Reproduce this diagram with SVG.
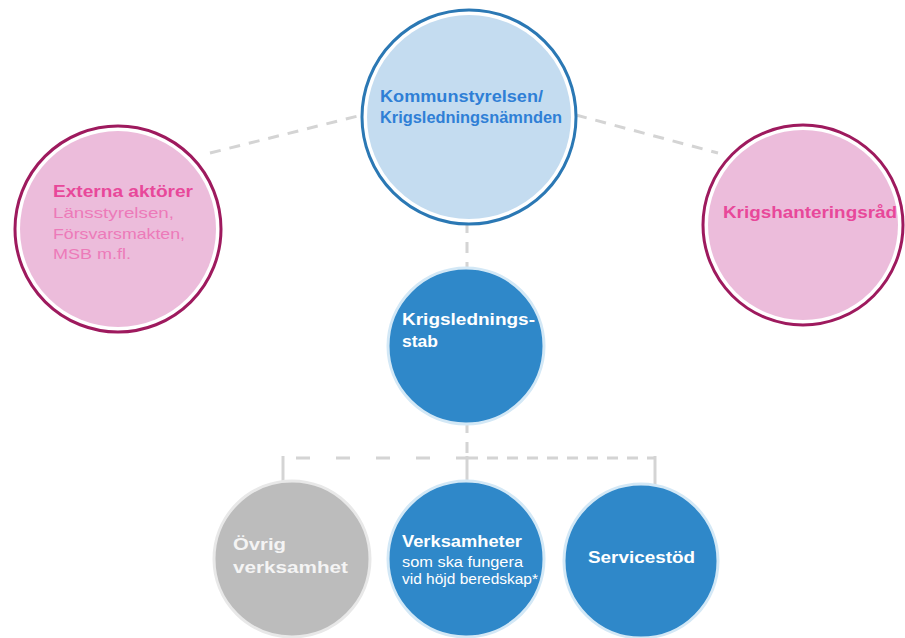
<svg xmlns="http://www.w3.org/2000/svg" width="905" height="638" viewBox="0 0 905 638">
<style>
.conn{stroke:#d4d4d4;stroke-width:3;fill:none;stroke-dasharray:11 9}
.sparse{stroke:#d4d4d4;stroke-width:3;fill:none;stroke-dasharray:14 26}
.solid{stroke:#d4d4d4;stroke-width:3;fill:none}
.ringBlue{fill:#ffffff;stroke:#2b78b4;stroke-width:3}
.fillBlue{fill:#c4dcf0}
.ringPink{fill:#ffffff;stroke:#9e1a5e;stroke-width:3}
.fillPink{fill:#ecbcdb}
.blue{fill:#2f88c9;stroke:#d3e8f6;stroke-width:3}
.gray{fill:#bcbcbc;stroke:#e8e8e8;stroke-width:3}
text{font-family:"Liberation Sans","DejaVu Sans",sans-serif}
.tb{font-weight:bold;fill:#2f7fd6;font-size:16px}
.pb{font-weight:bold;fill:#e8489a;font-size:16px}
.pr{fill:#ec7ab9;font-size:15px}
.wb{font-weight:bold;fill:#ffffff;font-size:16.5px}
.wr{fill:#ffffff;font-size:14px}
.gb{font-weight:bold;fill:#f4f4f4;font-size:17px}
</style>
<rect width="905" height="638" fill="#ffffff"/>
<g id="connectors">
<line class="conn" x1="210" y1="153" x2="362" y2="115"/>
<line class="conn" x1="576" y1="115" x2="718" y2="153"/>
<line class="conn" x1="467" y1="222" x2="467" y2="270"/>
<line class="conn" x1="467" y1="422" x2="467" y2="458"/>
<line class="sparse" x1="296" y1="458" x2="467" y2="458"/>
<line class="conn" x1="467" y1="458" x2="655" y2="458"/>
<line class="solid" x1="283" y1="456" x2="283" y2="482"/>
<line class="solid" x1="467" y1="456" x2="467" y2="482"/>
<line class="solid" x1="655" y1="456" x2="655" y2="485"/>
</g>
<g id="kommunstyrelsen">
<circle class="ringBlue" cx="469" cy="117" r="107"/>
<circle class="fillBlue" cx="469" cy="117" r="102"/>
<text class="tb" x="380" y="102" textLength="163" lengthAdjust="spacingAndGlyphs">Kommunstyrelsen/</text>
<text class="tb" x="380" y="123" textLength="182" lengthAdjust="spacingAndGlyphs">Krigsledningsnämnden</text>
</g>
<g id="externa">
<circle class="ringPink" cx="118" cy="229" r="103"/>
<circle class="fillPink" cx="118" cy="229" r="98"/>
<text class="pb" x="53" y="197" textLength="140" lengthAdjust="spacingAndGlyphs">Externa aktörer</text>
<text class="pr" x="53" y="218" textLength="121" lengthAdjust="spacingAndGlyphs">Länsstyrelsen,</text>
<text class="pr" x="53" y="239" textLength="132" lengthAdjust="spacingAndGlyphs">Försvarsmakten,</text>
<text class="pr" x="53" y="259" textLength="78" lengthAdjust="spacingAndGlyphs">MSB m.fl.</text>
</g>
<g id="krigshanteringsrad">
<circle class="ringPink" cx="803" cy="225" r="100"/>
<circle class="fillPink" cx="803" cy="225" r="95"/>
<text class="pb" x="723" y="218" textLength="174" lengthAdjust="spacingAndGlyphs">Krigshanteringsråd</text>
</g>
<g id="krigsledningsstab">
<circle class="blue" cx="466" cy="346" r="78"/>
<text class="wb" x="402" y="325" textLength="133" lengthAdjust="spacingAndGlyphs">Krigslednings-</text>
<text class="wb" x="402" y="347" textLength="36" lengthAdjust="spacingAndGlyphs">stab</text>
</g>
<g id="ovrig">
<circle class="gray" cx="292" cy="559" r="78"/>
<text class="gb" x="233" y="550" textLength="53" lengthAdjust="spacingAndGlyphs">Övrig</text>
<text class="gb" x="233" y="573" textLength="115" lengthAdjust="spacingAndGlyphs">verksamhet</text>
</g>
<g id="verksamheter">
<circle class="blue" cx="466" cy="559" r="78"/>
<text class="wb" x="402" y="547" textLength="120" lengthAdjust="spacingAndGlyphs">Verksamheter</text>
<text class="wr" x="402" y="567" textLength="121" lengthAdjust="spacingAndGlyphs">som ska fungera</text>
<text class="wr" x="402" y="584" textLength="136" lengthAdjust="spacingAndGlyphs">vid höjd beredskap*</text>
</g>
<g id="servicestod">
<circle class="blue" cx="641" cy="561" r="77"/>
<text class="wb" x="588" y="563" textLength="107" lengthAdjust="spacingAndGlyphs">Servicestöd</text>
</g>
</svg>
